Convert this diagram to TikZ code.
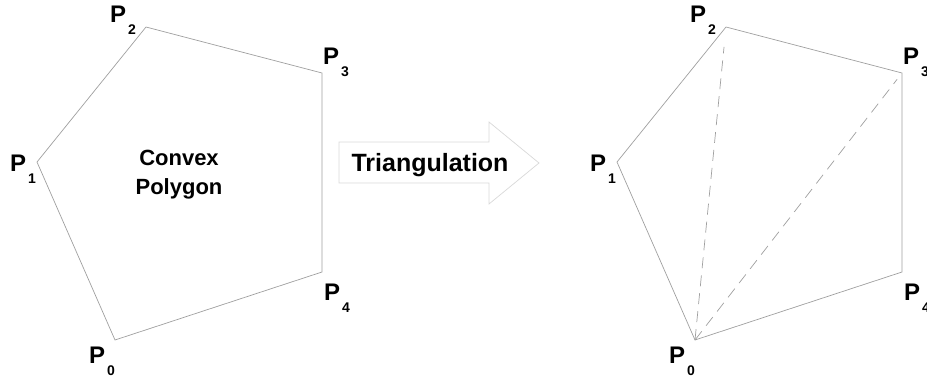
\documentclass[tikz,border=0pt]{standalone}
\usepackage{fontspec}
\setmainfont{Liberation Sans}
\newcommand{\plab}[1]{P\kern2pt\raisebox{-12pt}{\fontsize{14}{14}\selectfont #1}}

\begin{document}
\begin{tikzpicture}[x=1pt, y=-1pt,
  edge/.style={draw=gray!75, line width=0.7pt},
  diag/.style={draw=gray!75, line width=0.7pt, dash pattern=on 11pt off 7pt},
  vlabel/.style={anchor=base west, inner sep=0pt, font=\fontsize{24}{24}\selectfont\bfseries}]
  \useasboundingbox (0,0) rectangle (927,382);

  % left polygon
  \coordinate (A0) at (115,340);
  \coordinate (A1) at (37,162);
  \coordinate (A2) at (146,27);
  \coordinate (A3) at (322,73);
  \coordinate (A4) at (322,272);
  \draw[edge] (A0) -- (A1) -- (A2) -- (A3) -- (A4) -- cycle;

  \node[vlabel] (lA0) at (89,363) {\plab{0}};
  \node[vlabel] (lA1) at (10,172) {\plab{1}};
  \node[vlabel] (lA2) at (110,23) {\plab{2}};
  \node[vlabel] (lA3) at (323,65) {\plab{3}};
  \node[vlabel] (lA4) at (324,301) {\plab{4}};

  \node[align=center, inner sep=0pt, font=\fontsize{22}{29}\selectfont\bfseries]
    (title) at (179,175) {Convex\\Polygon};

  % arrow
  \draw[draw=gray!30, fill=white, line width=0.7pt]
    (339,142) coordinate (arrA) -- (489,142) -- (489,122) -- (539,163) coordinate (arrtip)
    -- (489,204) -- (489,183) -- (339,183) -- cycle;
  \node[anchor=base, inner sep=0pt, font=\fontsize{25}{25}\selectfont\bfseries]
    (step1) at (430,172) {Triangulation};

  % right polygon, triangulated
  \coordinate (B0) at (695,340);
  \coordinate (B1) at (617,162);
  \coordinate (B2) at (726,27);
  \coordinate (B3) at (902,73);
  \coordinate (B4) at (902,272);
  \draw[edge] (B0) -- (B1) -- (B2) -- (B3) -- (B4) -- cycle;
  \draw[diag, shorten >=20pt] (B0) -- (B2);
  \draw[diag, shorten >=8pt] (B0) -- (B3);

  \node[vlabel] (lB0) at (669,363) {\plab{0}};
  \node[vlabel] (lB1) at (590,172) {\plab{1}};
  \node[vlabel] (lB2) at (690,23) {\plab{2}};
  \node[vlabel] (lB3) at (903,65) {\plab{3}};
  \node[vlabel] (lB4) at (904,301) {\plab{4}};
\end{tikzpicture}
\end{document}
